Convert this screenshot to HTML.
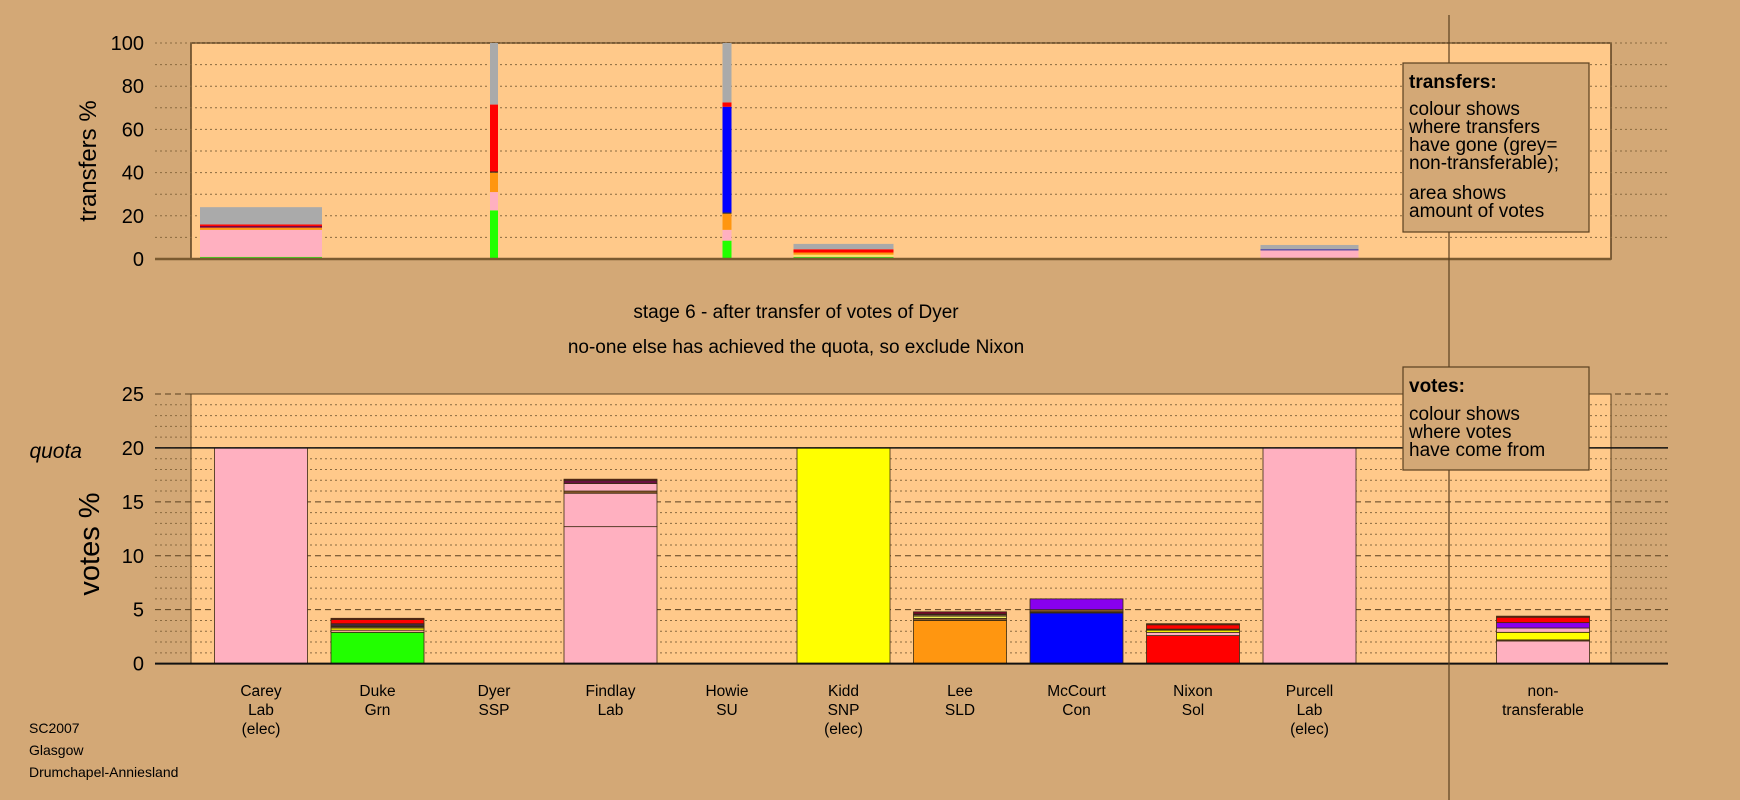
<!DOCTYPE html>
<html><head><meta charset="utf-8"><style>
html,body{margin:0;padding:0;background:#D3A876;}
svg{display:block;font-family:"Liberation Sans",sans-serif;}
</style></head><body>
<svg id="chart" width="1740" height="800" viewBox="0 0 1740 800" xmlns="http://www.w3.org/2000/svg">
<rect x="0" y="0" width="1740" height="800" fill="#D3A876"/>
<rect x="191" y="43" width="1420" height="216" fill="#FFC98A" stroke="#5a4020" stroke-width="1.5"/>
<rect x="191" y="394" width="1420" height="270" fill="#FFC98A" stroke="#5a4020" stroke-width="1"/>
<g id="grid"></g>
<g id="topbars"></g>
<g id="botbars"></g>
<g id="axes"></g>
<line x1="1449" y1="15" x2="1449" y2="800" stroke="#5a4020" stroke-width="1.2"/>
<text x="96" y="161" font-size="24" text-anchor="middle" transform="rotate(-90 96 161)">transfers %</text>
<text x="99" y="544" font-size="29" text-anchor="middle" transform="rotate(-90 99 544)">votes %</text>
<text x="796" y="318" font-size="19" text-anchor="middle">stage 6 - after transfer of votes of Dyer</text>
<text x="796" y="353" font-size="19" text-anchor="middle">no-one else has achieved the quota, so exclude Nixon</text>
<text x="82" y="458" font-size="21" font-style="italic" text-anchor="end">quota</text>
<g>
<rect x="1403" y="63" width="186" height="169" fill="#D3A876" stroke="#5a4020" stroke-width="1.2"/>
<text x="1409" y="88" font-size="19" font-weight="bold">transfers:</text>
<text font-size="19"><tspan x="1409" y="115">colour shows</tspan><tspan x="1409" y="133">where transfers</tspan><tspan x="1409" y="151">have gone (grey=</tspan><tspan x="1409" y="169">non-transferable);</tspan><tspan x="1409" y="199">area shows</tspan><tspan x="1409" y="217">amount of votes</tspan></text>
</g>
<g>
<rect x="1403" y="367" width="186" height="103" fill="#D3A876" stroke="#5a4020" stroke-width="1.2"/>
<text x="1409" y="392" font-size="19" font-weight="bold">votes:</text>
<text font-size="19"><tspan x="1409" y="420">colour shows</tspan><tspan x="1409" y="438">where votes</tspan><tspan x="1409" y="456">have come from</tspan></text>
</g>
<text font-size="14"><tspan x="29" y="733">SC2007</tspan><tspan x="29" y="755">Glasgow</tspan><tspan x="29" y="777">Drumchapel-Anniesland</tspan></text>
<g id="catlabels"></g>
</svg>
<script>
const categories = ["Carey|Lab|(elec)","Duke|Grn","Dyer|SSP","Findlay|Lab","Howie|SU","Kidd|SNP|(elec)","Lee|SLD","McCourt|Con","Nixon|Sol","Purcell|Lab|(elec)","non-|transferable"];
// votes % stacked segments (cumulative tops) and colours
const voteTops = [
  [20],
  [2.9,3.1,3.3,3.4,3.5,3.6,3.7,4.1,4.2],
  [0],
  [12.7,15.8,16.0,16.7,17.0,17.1],
  [0],
  [20],
  [4.0,4.2,4.4,4.5,4.6,4.8],
  [4.7,4.8,5.0,6.0],
  [2.6,2.9,3.1,3.2,3.6,3.7],
  [20],
  [2.1,2.2,2.9,3.3,3.8,4.3,4.4]
];
const voteColors = [
  ["#FFB0C0"],
  ["#22FF00","#FFB0A0","#FFFF00","#FFB0C0","#222222","#4444aa","#8800EE","#FF0000","#8B2020"],
  ["#000"],
  ["#FFB0C0","#FFB0C0","#8B5A2B","#FFB0C0","#6a1040","#8B2020"],
  ["#000"],
  ["#FFFF00"],
  ["#FF9610","#8B5A2B","#FFFF60","#FFB0C0","#222222","#800030"],
  ["#0000FF","#333333","#8B5A2B","#8800EE"],
  ["#FF0000","#FFB0C0","#FFFF00","#222222","#FF0000","#8B2020"],
  ["#FFB0C0"],
  ["#FFB0C0","#8B5A2B","#FFFF00","#FFB0C0","#8800EE","#FF0000","#8B2020"]
];
// transfers % : source index, relative width (votes), cumulative tops, colours
const transferSource = [0,2,4,5,9];
const transferWidth = [122,8,9,100,98];
const transferTops = [
  [1,13.5,14.5,15.3,16,24],
  [22.5,31,40,40.5,71.5,100],
  [8.5,13.5,21,21.5,70.5,72.5,100],
  [1,2,3,4.5,7],
  [0.5,4,4.5,6.5]
];
const transferColors = [
  ["#44DD22","#FFB0C0","#FF9610","#800040","#FF0000","#AAAAAA"],
  ["#22FF00","#FFB0C0","#FF9610","#222222","#FF0000","#AAAAAA"],
  ["#22FF00","#FFB0C0","#FF9610","#222222","#0000FF","#FF0000","#AAAAAA"],
  ["#44DD22","#FFE070","#FF9610","#FF0000","#AAAAAA"],
  ["#44DD22","#FFB0C0","#2222AA","#AAAAAA"]
];
const topTicks = [0,20,40,60,80,100];
const botTicks = [0,5,10,15,20,25];

const NS="http://www.w3.org/2000/svg";
function mk(tag,attrs,parent){const e=document.createElementNS(NS,tag);for(const k in attrs)e.setAttribute(k,attrs[k]);parent.appendChild(e);return e;}
const yTop = v => 259 - v*2.16;
const yBot = v => 663.6 - v*10.784;
const xCat = i => i<10 ? 261 + i*116.5 : 1543;
const BW = 93;
const grid=document.getElementById('grid'), axes=document.getElementById('axes');
// top grid
for(let v=10; v<=100; v+=10){
  const l=mk('line',{x1:155,x2:1668,y1:yTop(v),y2:yTop(v),stroke:'#8a6a40','stroke-width':1,'stroke-dasharray':'2,3'},grid);
  
  
}
topTicks.forEach(v=>{
  const t=mk('text',{x:144,y:yTop(v)+7,'font-size':20,'text-anchor':'end'},axes);t.textContent=v;
  
  
});
// bottom grid
for(let v=1; v<=25; v++){
  const major=v%5===0;
  const l=mk('line',{x1:155,x2:1668,y1:yBot(v),y2:yBot(v),stroke:major?'#5a4020':'#8a6a40','stroke-width':1,'stroke-dasharray':major?'6,4':'2,3'},grid);
  
  
}
botTicks.forEach(v=>{
  const t=mk('text',{x:144,y:yBot(v)+7,'font-size':20,'text-anchor':'end'},axes);t.textContent=v;
  
  
});
// top bars
const tb=document.getElementById('topbars');
transferSource.forEach((ci,j)=>{
  const w=transferWidth[j], x=xCat(ci)-w/2; let prev=0;
  transferTops[j].forEach((top,k)=>{
    const r=mk('rect',{x:x,width:w,y:yTop(top),height:yTop(prev)-yTop(top),fill:transferColors[j][k]},tb);
    
    
    prev=top;
  });
});
mk('line',{x1:155,x2:1611,y1:259,y2:259,stroke:'#7a5a30','stroke-width':2.5},axes);
// bottom bars
const bb=document.getElementById('botbars');
voteTops.forEach((tops,i)=>{
  const x=xCat(i)-BW/2; let prev=0;
  tops.forEach((top,k)=>{
    if(top<=prev) return;
    const r=mk('rect',{x:x,width:BW,y:yBot(top),height:yBot(prev)-yBot(top),fill:voteColors[i][k],stroke:'#3a2a10','stroke-width':0.8},bb);
    
    
    prev=top;
  });
});
mk('line',{x1:155,x2:1668,y1:yBot(20),y2:yBot(20),stroke:'#111','stroke-width':1.5},axes);
mk('line',{x1:155,x2:1668,y1:663.6,y2:663.6,stroke:'#111','stroke-width':2},axes);
// category labels
const cl=document.getElementById('catlabels');
categories.forEach((c,i)=>{
  const t=mk('text',{'font-size':15.5,'text-anchor':'middle'},cl);
  
  
  c.split('|').forEach((s,k)=>{const sp=mk('tspan',{x:xCat(i),y:696+k*19},t);sp.textContent=s;});
});
</script>
</body></html>
